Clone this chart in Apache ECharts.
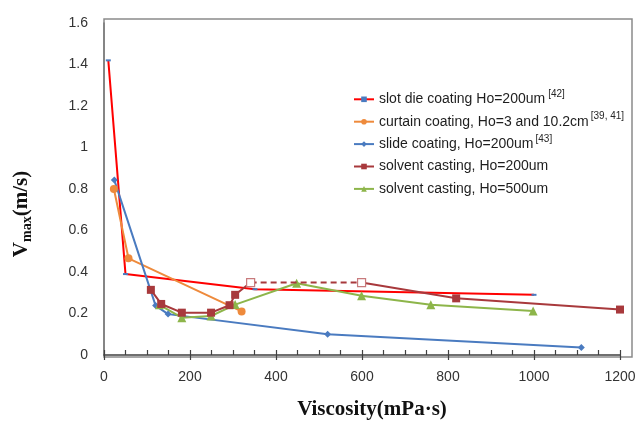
<!DOCTYPE html>
<html>
<head>
<meta charset="utf-8">
<script src="https://cdn.jsdelivr.net/npm/echarts@6/dist/echarts.min.js"></script>
<style>
html,body{margin:0;padding:0;background:#fff;}
#chart{width:639px;height:425px;}
</style>
</head>
<body>
<div id="chart"></div>
<script>
// ---- data ----
const slotX = [10, 50, 351, 1000];
const slotY = [1.42, 0.39, 0.317, 0.29];
const curtainX = [23, 57, 320];
const curtainY = [0.80, 0.466, 0.21];
const slideX = [24, 120, 149, 520, 1110];
const slideY = [0.843, 0.238, 0.197, 0.10, 0.036];
const cast200X = [109, 133, 181, 249, 292, 305, 341, 599, 819, 1200];
const cast200Y = [0.314, 0.246, 0.204, 0.204, 0.24, 0.29, 0.349, 0.349, 0.273, 0.219];
const cast200Open = [6, 7]; // indices of the hollow (open square) points joined by a dashed line
const cast500X = [129, 181, 249, 305, 448, 599, 760, 998];
const cast500Y = [0.242, 0.18, 0.188, 0.243, 0.346, 0.286, 0.242, 0.212];

const legendNames = [
  'slot die coating Ho=200um',
  'curtain coating, Ho=3 and 10.2cm',
  'slide coating, Ho=200um',
  'solvent casting, Ho=200um',
  'solvent casting, Ho=500um'
];
const legendRefs = ['[42]', '[39, 41]', '[43]', '', ''];
const xTicks = [0, 200, 400, 600, 800, 1000, 1200];
const yTicks = [0, 0.2, 0.4, 0.6, 0.8, 1, 1.2, 1.4, 1.6];

const zip = (xs, ys) => xs.map((x, i) => [x, ys[i]]);

const cRed = '#FF0000', cOrange = '#EE8A3C', cBlue = '#4A7BC0', cBrown = '#A8393C', cGreen = '#8DB54A';

const cast = zip(cast200X, cast200Y);
const o0 = cast200Open[0], o1 = cast200Open[1];
const castA = cast.slice(0, o0 + 1).map((p, i) => i === o0 ? {value: p, symbol: 'none'} : p);
const castDash = cast.slice(o0, o1 + 1);
const castC = cast.slice(o1).map((p, i) => i === 0 ? {value: p, symbol: 'none'} : p);

const supStyles = ['s1', 's2', 's3', '', ''];

const chart = echarts.init(document.getElementById('chart'));
chart.setOption({
  animation: false,
  backgroundColor: '#fff',
  grid: {left: 104, right: 19, top: 23, bottom: 68, containLabel: false},
  graphic: [{
    type: 'rect', z: -1, silent: true,
    shape: {x: 104, y: 19, width: 528, height: 338},
    style: {fill: 'none', stroke: '#8a8a8a', lineWidth: 1.5}
  }],
  legend: {
    orient: 'vertical', left: 348, top: 84.3,
    itemWidth: 20, itemHeight: 7, itemGap: 2.4,
    data: legendNames,
    formatter: function (name) {
      const i = legendNames.indexOf(name);
      let s = '{t|' + name + '}';
      if (legendRefs[i]) s += '{' + supStyles[i] + '|' + legendRefs[i] + '}';
      return s;
    },
    textStyle: {
      color: '#1e1e1e', fontFamily: 'Liberation Sans', fontSize: 14, lineHeight: 20,
      rich: {
        t: {fontFamily: 'Liberation Sans', fontSize: 14, lineHeight: 20, color: '#1e1e1e'},
        s1: {fontFamily: 'Liberation Sans', fontSize: 10, lineHeight: 10, verticalAlign: 'top', color: '#262626', padding: [0, 0, 0, 3]},
        s2: {fontFamily: 'Liberation Sans', fontSize: 10, lineHeight: 1, verticalAlign: 'top', color: '#262626', padding: [0, 0, 0, 2]},
        s3: {fontFamily: 'Liberation Sans', fontSize: 10, lineHeight: 6, verticalAlign: 'top', color: '#262626', padding: [0, 0, 0, 2]}
      }
    }
  },
  xAxis: [{
    type: 'value', min: xTicks[0], max: xTicks[xTicks.length - 1], interval: xTicks[1] - xTicks[0],
    position: 'bottom',
    splitLine: {show: false},
    axisLine: {show: true, lineStyle: {color: '#404040', width: 1.5}},
    axisTick: {show: true, inside: false, length: 5, lineStyle: {color: '#404040', width: 1.2}},
    axisLabel: {color: '#333', fontSize: 14, fontFamily: 'Liberation Sans', margin: 15,
                formatter: v => String(v)},
    name: 'Viscosity(mPa·s)', nameLocation: 'middle', nameGap: 44,
    nameTextStyle: {fontFamily: 'Liberation Serif', fontWeight: 'bold', fontSize: 21, color: '#111', padding: [0, 0, 0, 20]}
  }, {
    type: 'value', min: xTicks[0], max: xTicks[xTicks.length - 1], interval: 50,
    position: 'bottom', offset: 0,
    splitLine: {show: false},
    axisLine: {show: false},
    axisTick: {show: true, inside: true, length: 5, lineStyle: {color: '#404040', width: 1.2}},
    axisLabel: {show: false}
  }],
  yAxis: {
    type: 'value', min: yTicks[0], max: yTicks[yTicks.length - 1], interval: 0.2,
    splitLine: {show: false},
    axisLine: {show: true, lineStyle: {color: '#7a7a7a', width: 1.5}},
    axisTick: {show: false},
    axisLabel: {color: '#333', fontSize: 14, fontFamily: 'Liberation Sans', margin: 16},
    name: '{v|V}{sub|max}{v|(m/s)}', nameLocation: 'middle', nameRotate: 90, nameGap: 70,
    nameTextStyle: {
      padding: [0, 50, 0, 0],
      rich: {
        v: {fontFamily: 'Liberation Serif', fontWeight: 'bold', fontSize: 21, lineHeight: 24, color: '#111'},
        sub: {fontFamily: 'Liberation Serif', fontWeight: 'bold', fontSize: 14, lineHeight: 16, verticalAlign: 'bottom', color: '#111'}
      }
    }
  },
  series: [
    {name: legendNames[0], type: 'line', data: zip(slotX, slotY), color: cRed,
     lineStyle: {color: cRed, width: 2}, symbol: 'rect', symbolSize: [5, 2],
     itemStyle: {color: cBlue}, z: 3},
    {name: legendNames[1], type: 'line', data: zip(curtainX, curtainY), color: cOrange,
     lineStyle: {color: cOrange, width: 2}, symbol: 'circle', symbolSize: 8,
     itemStyle: {color: cOrange}, z: 3},
    {name: legendNames[2], type: 'line', data: zip(slideX, slideY), color: cBlue,
     lineStyle: {color: cBlue, width: 2}, symbol: 'diamond', symbolSize: 7,
     itemStyle: {color: cBlue}, z: 3},
    {name: legendNames[3], type: 'line', data: castA, color: cBrown,
     lineStyle: {color: cBrown, width: 2}, symbol: 'rect', symbolSize: 8,
     itemStyle: {color: cBrown}, z: 4},
    {name: 'cast200-dashed', type: 'line', data: castDash,
     lineStyle: {color: cBrown, width: 2, type: [6, 4]}, symbol: 'rect', symbolSize: 8,
     itemStyle: {color: '#fff', borderColor: '#C87A7C', borderWidth: 1.2}, z: 5},
    {name: legendNames[3], type: 'line', data: castC, color: cBrown,
     lineStyle: {color: cBrown, width: 2}, symbol: 'rect', symbolSize: 8,
     itemStyle: {color: cBrown}, z: 4},
    {name: legendNames[4], type: 'line', data: zip(cast500X, cast500Y), color: cGreen,
     lineStyle: {color: cGreen, width: 2}, symbol: 'triangle', symbolSize: 9,
     itemStyle: {color: cGreen}, z: 3}
  ]
});
</script>
</body>
</html>
